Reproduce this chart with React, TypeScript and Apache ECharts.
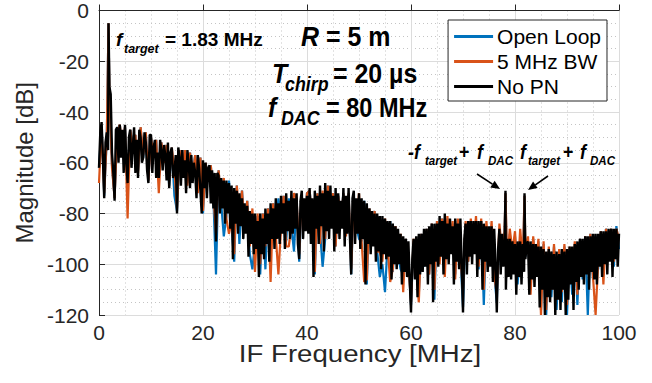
import React, { useEffect, useRef } from "react";
import * as echarts from "echarts";

// Frequency grid steps (MHz): index i -> i * step
const NOPN_STEP = 0.25;
const PN_STEP = 0.5;

// Extra spectral lines (MHz) inserted between grid points
const peakFreqs = [1.83, 78.17, 81.83];

// No PN (black) magnitude [dB], 0 ... 100 MHz in 0.25 MHz steps (20 values = 5 MHz per row)
const noPnDb = [
  -62, -48, -44, -58, -74, -52, -48, -55, -30, -33, -56, -64, -75, -47, -46, -60, -45, -58, -47, -64,
  -45, -60, -68, -50, -47, -62, -54, -46, -64, -51, -66, -47, -50, -60, -58, -48, -52, -63, -68, -49,
  -49, -64, -54, -51, -66, -56, -66, -51, -55, -63, -53, -57, -67, -52, -70, -56, -54, -66, -64, -57,
  -80, -54, -58, -69, -55, -66, -59, -72, -55, -60, -70, -57, -68, -60, -64, -74, -57, -62, -71, -80,
  -59, -70, -60, -74, -62, -61, -76, -63, -78, -64, -91, -64, -65, -80, -66, -78, -67, -84, -67, -80,
  -68, -86, -69, -98, -70, -84, -71, -88, -72, -85, -74, -90, -76, -88, -77, -97, -79, -92, -80, -96,
  -80, -94, -83, -105, -80, -96, -82, -98, -78, -92, -80, -99, -76, -90, -78, -94, -74, -90, -76, -92,
  -73, -88, -76, -94, -72, -87, -75, -90, -71, -88, -74, -86, -72, -92, -98, -75, -71, -90, -74, -87,
  -73, -88, -70, -92, -74, -105, -71, -86, -73, -92, -69, -85, -72, -95, -68, -87, -71, -90, -69, -86,
  -73, -95, -70, -88, -72, -90, -75, -86, -70, -93, -73, -88, -70, -89, -104, -74, -71, -92, -74, -88,
  -72, -94, -74, -90, -75, -108, -76, -92, -78, -96, -79, -93, -80, -99, -80, -95, -81, -102, -81, -96,
  -82, -98, -83, -97, -83, -106, -84, -100, -85, -102, -86, -100, -88, -108, -89, -103, -90, -105, -91, -106,
  -119, -98, -90, -106, -89, -113, -88, -104, -88, -103, -86, -101, -86, -108, -85, -100, -84, -115, -84, -99,
  -84, -101, -81, -97, -83, -104, -80, -98, -84, -100, -82, -96, -85, -108, -82, -99, -84, -102, -82, -100,
  -119, -90, -84, -104, -83, -97, -83, -100, -83, -96, -83, -105, -83, -98, -83, -110, -84, -99, -85, -103,
  -85, -101, -85, -107, -86, -100, -119, -94, -86, -104, -88, -101, -92, -110, -90, -105, -90, -106, -91, -104,
  -92, -112, -91, -105, -91, -108, -92, -103, -98, -92, -91, -112, -91, -106, -92, -109, -92, -105, -93, -117,
  -93, -110, -94, -120, -95, -113, -94, -115, -95, -110, -96, -120, -95, -114, -96, -118, -94, -110, -95, -120,
  -94, -114, -93, -108, -93, -118, -92, -107, -91, -110, -90, -105, -90, -108, -89, -104, -89, -110, -89, -103,
  -88, -106, -88, -108, -88, -101, -87, -105, -87, -100, -87, -104, -86, -99, -86, -105, -86, -98, -86, -101,
  -88,
];
const noPnPeaks = [-5, -71, -72];

// 5 MHz BW (orange), 0 ... 100 MHz in 0.5 MHz steps (10 values = 5 MHz per row)
const bw5Db = [
  -68, -46, -72, -50, -33, -62, -74, -48, -45, -53,
  -46, -82, -47, -54, -49, -64, -46, -57, -48, -67,
  -50, -58, -51, -72, -52, -60, -53, -67, -54, -63,
  -78, -55, -64, -55, -69, -56, -65, -57, -72, -58,
  -79, -60, -67, -61, -73, -88, -63, -75, -66, -82,
  -88, -83, -96, -69, -81, -71, -87, -75, -93, -78,
  -103, -80, -100, -80, -93, -78, -107, -76, -89, -104,
  -86, -73, -93, -93, -85, -72, -74, -96, -73, -86,
  -72, -71, -81, -103, -72, -92, -71, -90, -69, -85,
  -72, -93, -73, -83, -72, -89, -72, -102, -73, -86,
  -72, -91, -107, -106, -78, -91, -79, -95, -95, -99,
  -82, -93, -107, -102, -85, -97, -88, -111, -90, -99,
  -115, -90, -102, -115, -88, -98, -86, -104, -84, -110,
  -83, -100, -82, -105, -81, -94, -83, -106, -82, -97,
  -110, -83, -99, -82, -93, -81, -101, -82, -110, -83,
  -97, -83, -104, -112, -84, -95, -87, -100, -86, -95,
  -87, -104, -86, -99, -95, -89, -112, -89, -102, -90,
  -120, -91, -118, -93, -110, -92, -114, -94, -111, -92,
  -116, -93, -105, -91, -112, -90, -104, -89, -100, -88,
  -105, -120, -99, -87, -108, -86, -95, -86, -99, -86,
  -90,
];
const bw5Peaks = [-5, -72, -73];

// Open Loop (blue), 0 ... 100 MHz in 0.5 MHz steps
const openLoopDb = [
  -62, -45, -73, -50, -33, -61, -74, -47, -45, -55,
  -46, -70, -47, -53, -49, -63, -46, -58, -48, -67,
  -50, -57, -51, -66, -52, -59, -53, -69, -54, -73,
  -79, -55, -63, -55, -68, -56, -64, -57, -71, -58,
  -80, -60, -66, -61, -74, -104, -63, -76, -89, -81,
  -67, -85, -99, -69, -92, -71, -87, -75, -96, -102,
  -91, -81, -104, -80, -102, -78, -96, -76, -88, -74,
  -87, -73, -91, -74, -85, -95, -74, -99, -73, -85,
  -72, -71, -80, -104, -72, -87, -101, -90, -69, -84,
  -72, -93, -73, -82, -72, -88, -72, -104, -73, -85,
  -90, -91, -75, -108, -78, -90, -79, -95, -105, -100,
  -111, -92, -83, -103, -85, -96, -102, -104, -90, -98,
  -116, -91, -100, -112, -88, -101, -86, -104, -84, -114,
  -83, -96, -82, -101, -82, -94, -84, -104, -83, -97,
  -117, -84, -99, -83, -93, -83, -102, -83, -116, -85,
  -97, -85, -104, -115, -86, -98, -89, -105, -88, -99,
  -89, -108, -90, -102, -97, -91, -110, -90, -103, -91,
  -118, -92, -120, -94, -113, -93, -118, -95, -115, -93,
  -120, -94, -112, -92, -116, -90, -106, -89, -120, -88,
  -106, -89, -102, -87, -104, -86, -97, -86, -101, -85,
  -94,
];
const openLoopPeaks = [-5, -72, -73];

const seriesNames = ["Open Loop", "5 MHz BW", "No PN"];
const seriesColors = ["#0072BD", "#D95319", "#000000"];
const seriesWidths = [2.2, 2.2, 2.4];

const xTicks = { min: 0, max: 100, interval: 20 };
const yTicks = { min: -120, max: 0, interval: 20 };

function buildPoints(values: number[], step: number, peaks: number[]) {
  const pts: number[][] = values.map((v, i) => [i * step, v]);
  peakFreqs.forEach((f, k) => pts.push([f, peaks[k]]));
  pts.sort((a, b) => a[0] - b[0]);
  return pts;
}

const FONT = '"Liberation Sans", Arial, Helvetica, sans-serif';

// baseline-positioned bold text (top-anchored in zrender => shift by ~0.88 * size)
function txt(text: string, x: number, baseline: number, size: number, italic: boolean, sx = 1) {
  return {
    type: "text",
    x,
    y: baseline - 0.88 * size,
    scaleX: sx,
    z: 100,
    style: {
      text,
      fill: "#000",
      font: `${italic ? "italic " : ""}bold ${size}px ${FONT}`,
      textAlign: "left",
      textVerticalAlign: "top",
    },
  };
}

function arrow(x1: number, y1: number, x2: number, y2: number) {
  const dx = x2 - x1;
  const dy = y2 - y1;
  const len = Math.hypot(dx, dy);
  const ux = dx / len;
  const uy = dy / len;
  const hl = 9;
  const hw = 4;
  const bx = x2 - ux * hl;
  const by = y2 - uy * hl;
  return [
    {
      type: "line",
      z: 100,
      shape: { x1, y1, x2: bx, y2: by },
      style: { stroke: "#000", lineWidth: 1.6 },
    },
    {
      type: "polygon",
      z: 100,
      shape: {
        points: [
          [x2, y2],
          [bx - uy * hw, by + ux * hw],
          [bx + uy * hw, by - ux * hw],
        ],
      },
      style: { fill: "#000" },
    },
  ];
}

export default function App() {
  const ref = useRef<HTMLDivElement>(null);

  useEffect(() => {
    if (!ref.current) return;
    const chart = echarts.init(ref.current, null, { renderer: "svg" });
    const data = [
      buildPoints(openLoopDb, PN_STEP, openLoopPeaks),
      buildPoints(bw5Db, PN_STEP, bw5Peaks),
      buildPoints(noPnDb, NOPN_STEP, noPnPeaks),
    ];
    const sq = 0.89;
    chart.setOption({
      animation: false,
      backgroundColor: "#fff",
      textStyle: { fontFamily: FONT },
      grid: { left: 99, top: 10, width: 520, height: 305, containLabel: false },
      legend: {
        orient: "vertical",
        right: 45,
        top: 20,
        padding: [6, 6, 4, 6],
        itemGap: 4,
        itemWidth: 39,
        itemHeight: 3,
        icon: "rect",
        borderColor: "#262626",
        borderWidth: 1,
        borderRadius: 0,
        backgroundColor: "#fff",
        textStyle: { fontSize: 21, color: "#000", fontFamily: FONT, padding: [0, 0, 0, -1] },
        data: seriesNames,
      },
      xAxis: {
        type: "value",
        min: xTicks.min,
        max: xTicks.max,
        interval: xTicks.interval,
        axisLine: { show: true, lineStyle: { color: "#262626", width: 1 } },
        axisTick: { show: true, inside: true, length: 6, lineStyle: { color: "#262626" } },
        axisLabel: { fontSize: 21, color: "#262626", margin: 7, fontFamily: FONT },
        splitLine: { show: true, lineStyle: { color: "#dcdcdc", width: 1 } },
        minorTick: { show: false, splitNumber: 4 },
        minorSplitLine: { show: true, lineStyle: { color: "#c4c4c4", type: [1, 3], width: 1 } },
      },
      yAxis: {
        type: "value",
        min: yTicks.min,
        max: yTicks.max,
        interval: yTicks.interval,
        name: "Magnitude [dB]",
        nameLocation: "middle",
        nameGap: 60,
        nameTextStyle: { fontSize: 24, color: "#262626", fontFamily: FONT },
        axisLine: { show: true, lineStyle: { color: "#262626", width: 1 } },
        axisTick: { show: true, inside: true, length: 6, lineStyle: { color: "#262626" } },
        axisLabel: { fontSize: 21, color: "#262626", margin: 10, fontFamily: FONT },
        splitLine: { show: true, lineStyle: { color: "#dcdcdc", width: 1 } },
        minorTick: { show: false, splitNumber: 4 },
        minorSplitLine: { show: true, lineStyle: { color: "#c4c4c4", type: [1, 3], width: 1 } },
      },
      series: seriesNames.map((name, k) => ({
        name,
        type: "line",
        data: data[k],
        symbol: "none",
        showSymbol: false,
        clip: true,
        z: 2 + k,
        color: seriesColors[k],
        itemStyle: { color: seriesColors[k] },
        lineStyle: { color: seriesColors[k], width: seriesWidths[k] },
      })),
      graphic: [
        {
          type: "text",
          x: 360,
          y: 342,
          scaleX: 1.15,
          z: 100,
          style: {
            text: "IF Frequency [MHz]",
            fill: "#262626",
            font: `24px ${FONT}`,
            textAlign: "center",
            textVerticalAlign: "top",
          },
        },
        txt("f", 116, 47, 19, true),
        txt("target", 124, 53, 12.5, true),
        txt("= 1.83 MHz", 165, 47, 19, false),
        txt("R", 301, 47, 28, true, sq),
        txt("= 5 m", 326, 47, 28, false, sq),
        txt("T", 272, 84, 28, true, sq),
        txt("chirp", 285, 92, 20, true, sq),
        txt("= 20 µs", 333, 84, 28, false, sq),
        txt("f", 268, 118, 28, true, sq),
        txt("DAC", 281, 126, 20, true, sq),
        txt("= 80 MHz", 326, 118, 28, false, 0.84),
        txt("-f", 408, 160, 20, true, sq),
        txt("target", 425, 166, 13, true, sq),
        txt("+", 459, 160, 20, false, sq),
        txt("f", 477, 160, 20, true, sq),
        txt("DAC", 488, 166, 13, true, sq),
        txt("f", 520, 160, 20, true, sq),
        txt("target", 528, 166, 13, true, sq),
        txt("+", 563, 160, 20, false, sq),
        txt("f", 580, 160, 20, true, sq),
        txt("DAC", 590, 166, 13, true, sq),
        ...arrow(477, 174, 500, 189),
        ...arrow(548, 176, 528, 190),
      ],
    });
    return () => chart.dispose();
  }, []);

  return (
    <div
      ref={ref}
      style={{ position: "fixed", left: 0, top: 0, width: 652, height: 383, background: "#fff" }}
    />
  );
}
